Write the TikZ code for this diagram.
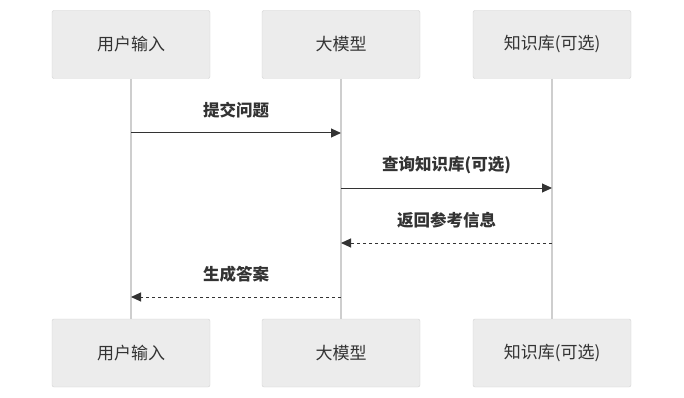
\documentclass[tikz,border=0pt]{standalone}
\usepackage{fontspec}
\setmainfont{Noto Sans CJK SC}
\usetikzlibrary{arrows.meta,calc}
\definecolor{boxg}{RGB}{236,236,236}
\definecolor{edgeg}{RGB}{210,210,210}
\definecolor{lifeg}{RGB}{206,206,206}
\definecolor{ink}{RGB}{51,51,51}

\begin{document}
\begin{tikzpicture}[
  x=1pt, y=-1pt,
  font=\fontsize{17}{20}\selectfont,
  box/.style={draw=edgeg, fill=boxg, rounded corners=2pt, minimum width=158pt, minimum height=68pt, text=ink},
  life/.style={draw=lifeg, line width=1.2pt},
  msg/.style={font=\fontsize{16.5}{20}\selectfont\bfseries, text=ink},
  arr/.style={-{Triangle[length=10pt, width=9pt]}, draw=ink, line width=1pt},
  ret/.style={arr, dash pattern=on 3pt off 3pt},
]
\useasboundingbox (0,0) rectangle (684,398);

% ---------- participants & lifelines ----------
\foreach \n/\x/\t in {user/131/用户输入, llm/341/大模型, kb/552/知识库(可选)}{
  \draw[life] (\x,79) -- (\x,319);
  \node[box] (\n top) at (\x,44.5) {\t};
  \node[box] (\n bot) at (\x,353) {\t};
}

% ---------- messages ----------
\foreach \i/\a/\b/\y/\t/\s in {
    1/user/llm/133/提交问题/arr, 2/llm/kb/188/查询知识库(可选)/arr,
    3/kb/llm/243/返回参考信息/ret, 4/llm/user/297/生成答案/ret}{
  \coordinate (m\i s) at (\a top |- 0,\y);
  \coordinate (m\i e) at (\b top |- 0,\y);
  \draw[\s] (m\i s) -- node[msg, yshift=23pt] {\t} (m\i e);
}

\end{tikzpicture}
\end{document}
